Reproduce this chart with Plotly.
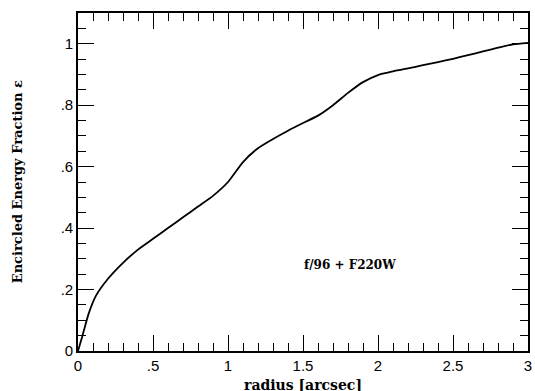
import plotly.graph_objects as go

radius = [0, 0.03, 0.07, 0.12, 0.2, 0.3, 0.4, 0.5, 0.6, 0.7, 0.8, 0.9, 1.0, 1.1, 1.2,
          1.3, 1.4, 1.5, 1.6, 1.7, 1.8, 1.9, 2.0, 2.1, 2.2, 2.3, 2.4, 2.5, 2.6, 2.7,
          2.8, 2.9, 3.0]
energy = [0, 0.05, 0.12, 0.18, 0.235, 0.287, 0.33, 0.365, 0.40, 0.435, 0.47, 0.505,
          0.55, 0.615, 0.66, 0.69, 0.717, 0.742, 0.766, 0.80, 0.84, 0.875, 0.898,
          0.91, 0.92, 0.93, 0.94, 0.951, 0.963, 0.975, 0.987, 0.998, 1.003]

xtick_vals = [0, 0.5, 1, 1.5, 2, 2.5, 3]
xtick_text = ["0", ".5", "1", "1.5", "2", "2.5", "3"]
ytick_vals = [0, 0.2, 0.4, 0.6, 0.8, 1.0]
ytick_text = ["0", ".2", ".4", ".6", ".8", "1"]

label = "f/96 + F220W"
xtitle = "radius [arcsec]"
ytitle = "Encircled Energy Fraction ε"

serif = "DejaVu Serif"
sans = "Liberation Sans"

fig = go.Figure()
fig.add_trace(go.Scatter(x=radius, y=energy, mode="lines",
                         line=dict(color="black", width=1.8, shape="spline", smoothing=0.6),
                         showlegend=False, hoverinfo="skip"))

fig.add_annotation(x=1.49, y=0.28, text="<b>" + label + "</b>", showarrow=False,
                   xanchor="left", yanchor="middle",
                   font=dict(family=serif, size=12, color="black"))
fig.add_annotation(x=0.5, y=-0.07, xref="paper", yref="paper", yanchor="top",
                   text="<b>" + xtitle + "</b>", showarrow=False,
                   font=dict(family=serif, size=14, color="black"))
fig.add_annotation(x=-0.135, y=0.5, xref="paper", yref="paper", xanchor="center",
                   text="<b>" + ytitle + "</b>", showarrow=False, textangle=-90,
                   font=dict(family=serif, size=13, color="black"))

axis_common = dict(showgrid=False, zeroline=False, showline=True, linecolor="black",
                   linewidth=1.6, mirror="allticks", ticks="inside", ticklen=16,
                   tickwidth=1.4, tickcolor="black")

fig.update_xaxes(range=[0, 3], tickmode="array", tickvals=xtick_vals, ticktext=xtick_text,
                 tickfont=dict(family=sans, size=15, color="black"),
                 minor=dict(dtick=0.1, ticks="inside", ticklen=8, tickwidth=1.4, tickcolor="black"),
                 **axis_common)
fig.update_yaxes(range=[0, 1.1], tickmode="array", tickvals=ytick_vals, ticktext=ytick_text,
                 tickfont=dict(family=sans, size=15, color="black"),
                 minor=dict(dtick=0.05, ticks="inside", ticklen=8, tickwidth=1.4, tickcolor="black"),
                 **axis_common)

fig.update_layout(width=535, height=391, margin=dict(l=78, r=3, t=13, b=40),
                  plot_bgcolor="white", paper_bgcolor="white")

fig.write_html("out.html", config={"displayModeBar": False},
               post_script="document.body.style.margin='0';document.body.style.overflow='hidden';")
